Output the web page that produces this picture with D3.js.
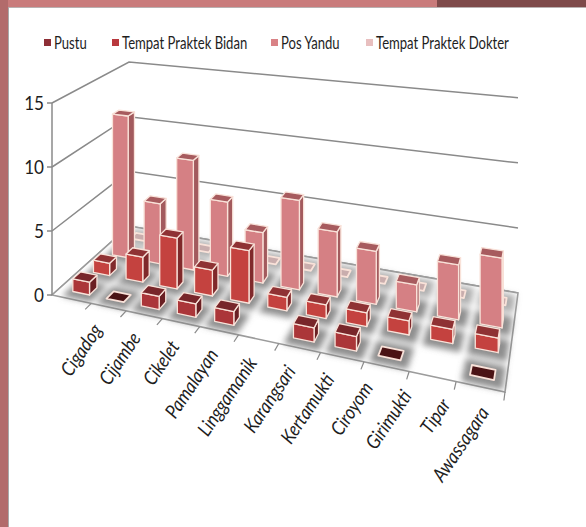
<!DOCTYPE html>
<html>
<head>
<meta charset="utf-8">
<script src="https://cdnjs.cloudflare.com/ajax/libs/d3/7.8.5/d3.min.js"></script>
<style>
  html, body { margin: 0; padding: 0; background: #fff; }
  svg { display: block; }
  text { font-family: Lato, "Open Sans", sans-serif; fill: #1e1e1e; }
</style>
</head>
<body>
<svg id="chart" width="586" height="527"></svg>
<script>
// ---- data ----
const categories = ["Cigadog", "Cijambe", "Cikelet", "Pamalayan", "Linggamanik", "Karangsari",
                    "Kertamukti", "Ciroyom", "Girimukti", "Tipar", "Awassagara"];
const seriesNames = ["Pustu", "Tempat Praktek Bidan", "Pos Yandu", "Tempat Praktek Dokter"];
const pustu    = [1, 0, 1, 1, 1, null, 1, 1, 0, null, 0];
const bidan    = [1, 2, 4, 2, 4, 1, 1, 1, 1, 1, 1];
const posYandu = [12, 5, 9, 6, 4, 7, 5, 4, 2, 4, 5];
const dokter   = [0, 0, 0, 0, 0, 0, 0, 0, 0, 0, 0];
const valueTicks = [0, 5, 10, 15];

// face colours per series: front, side, top, flat (zero value), legend swatch
const palette = [
  { front: "#ab3639", side: "#6a1f23", top: "#78262a", flat: "#4a1315", key: "#8e2f36" },
  { front: "#c4423f", side: "#80292b", top: "#8f3234", flat: "#5c1a1c", key: "#b8383d" },
  { front: "#d58084", side: "#a35a5d", top: "#a75b5e", flat: "#8d4a4c", key: "#d98286" },
  { front: "#efcaca", side: "#cba4a4", top: "#d7b6b6", flat: "#c9adad", key: "#e8bfbf" }
];

const W = 586, H = 527;
const svg = d3.select("#chart");
const defs = svg.append("defs");
defs.append("filter").attr("id", "soft").attr("x", "-60%").attr("y", "-60%")
  .attr("width", "220%").attr("height", "220%")
  .append("feGaussianBlur").attr("stdDeviation", 3.2);

// ---- slide frame ----
svg.append("rect").attr("x", 0).attr("y", 0).attr("width", W).attr("height", 7).attr("fill", "#c97b7b");
svg.append("rect").attr("x", 437).attr("y", 0).attr("width", W - 437).attr("height", 7).attr("fill", "#7e4a4a");
svg.append("line").attr("x1", 8).attr("x2", W).attr("y1", 7.5).attr("y2", 7.5).attr("stroke", "#b9b0b0").attr("stroke-width", 1);
svg.append("rect").attr("x", 0).attr("y", 0).attr("width", 8).attr("height", H).attr("fill", "#b26b6b");
svg.append("line").attr("x1", 8.5).attr("x2", 8.5).attr("y1", 7).attr("y2", H).attr("stroke", "#a9a9a9").attr("stroke-width", 1);

// ---- 3D projection ----
// floor corners on screen (front-left, front-right, back-right, back-left)
// and the on-screen height of the full value range at the front-left corner
const floorQuad = [[52, 295], [505, 392], [518, 293], [129, 226]];
const wallHeight = 192;

function squareToQuad(q) {
  const [[x0, y0], [x1, y1], [x2, y2], [x3, y3]] = q;
  const dx1 = x1 - x2, dx2 = x3 - x2, dx3 = x0 - x1 + x2 - x3;
  const dy1 = y1 - y2, dy2 = y3 - y2, dy3 = y0 - y1 + y2 - y3;
  const den = dx1 * dy2 - dx2 * dy1;
  const g = (dx3 * dy2 - dx2 * dy3) / den;
  const h = (dx1 * dy3 - dx3 * dy1) / den;
  return { a: x1 - x0 + g * x1, b: x3 - x0 + h * x3, c: x0,
           d: y1 - y0 + g * y1, e: y3 - y0 + h * y3, f: y0, g, h };
}
const M = squareToQuad(floorQuad);
// u: along categories (0..1), v: depth (0 front .. 1 back), t: height (0..1 of value domain)
function project(u, v, t) {
  const w = M.g * u + M.h * v + 1;
  return [(M.a * u + M.b * v + M.c) / w, (M.d * u + M.e * v + M.f - wallHeight * t) / w];
}
const pts = arr => arr.map(p => project(p[0], p[1], p[2]).map(n => n.toFixed(2)).join(",")).join(" ");

// ---- scales ----
const xBand = d3.scaleBand().domain(categories).range([0.015, 1]).paddingInner(0.5).paddingOuter(0.25);
const zBand = d3.scaleBand().domain(seriesNames).range([0, 1]).paddingInner(0.64).paddingOuter(0.32);
const yScale = d3.scaleLinear().domain([0, 15]).range([0, 1]);

// ---- walls: gridlines on the side and back walls ----
const grid = svg.append("g").attr("stroke", "#8a8a8a").attr("stroke-width", 1.5).attr("fill", "none");
valueTicks.forEach(tv => {
  const t = yScale(tv);
  grid.append("polyline").attr("points", pts([[0, 0, t], [0, 1, t], [1, 1, t]]));
});

// ---- floor ----
svg.append("polygon")
  .attr("points", pts([[0, 0, 0], [1, 0, 0], [1, 1, 0], [0, 1, 0]]))
  .attr("fill", "#ffffff").attr("stroke", "#9c9c9c").attr("stroke-width", 1.6);

// ---- boxes ----
const seriesValues = [pustu, bidan, posYandu, dokter];
const boxes = [];
seriesNames.forEach((s, si) => categories.forEach((c, ci) => {
  const v = seriesValues[si][ci];
  if (v == null) return;
  boxes.push({ s, si, c, ci, v });
}));
// paint from the back row forward, left to right within a row
boxes.sort((a, b) => b.si - a.si || a.ci - b.ci);

const bw = xBand.bandwidth(), bd = zBand.bandwidth();

// soft shadows on the floor
svg.append("g").attr("filter", "url(#soft)")
  .selectAll("polygon").data(boxes).join("polygon")
  .attr("points", d => {
    const u0 = xBand(d.c) - bw * 0.3, u1 = xBand(d.c) + bw * 1.4;
    const v0 = zBand(d.s) - bd * 0.75, v1 = zBand(d.s) + bd * 1.55;
    return pts([[u0, v0, 0], [u1, v0, 0], [u1, v1, 0], [u0, v1, 0]]);
  })
  .attr("fill", d => d.si === 3 ? "#9a9a9a" : "#727272").attr("opacity", 0.8);

const bars = svg.append("g").attr("stroke", "#f9e2d9").attr("stroke-width", 1.3).attr("stroke-linejoin", "round");
boxes.forEach(d => {
  const col = palette[d.si];
  const u0 = xBand(d.c), u1 = u0 + bw;
  const v0 = zBand(d.s), v1 = v0 + bd;
  const t = yScale(d.v);
  const g = bars.append("g");
  if (d.v === 0) {
    g.append("polygon").attr("points", pts([[u0, v0, 0], [u1, v0, 0], [u1, v1, 0], [u0, v1, 0]]))
      .attr("fill", col.flat).attr("stroke-width", 1.8);
    return;
  }
  g.append("polygon").attr("points", pts([[u1, v0, 0], [u1, v1, 0], [u1, v1, t], [u1, v0, t]])).attr("fill", col.side);
  g.append("polygon").attr("points", pts([[u0, v0, 0], [u1, v0, 0], [u1, v0, t], [u0, v0, t]])).attr("fill", col.front);
  g.append("polygon").attr("points", pts([[u0, v0, t], [u1, v0, t], [u1, v1, t], [u0, v1, t]])).attr("fill", col.top);
});

// ---- value axis ----
const axis = svg.append("g");
const a0 = project(0, 0, 0), a1 = project(0, 0, 1);
axis.append("line").attr("x1", a0[0]).attr("y1", a0[1]).attr("x2", a1[0]).attr("y2", a1[1])
  .attr("stroke", "#8a8a8a").attr("stroke-width", 1.5);
valueTicks.forEach(tv => {
  const p = project(0, 0, yScale(tv));
  axis.append("line").attr("x1", p[0] - 5).attr("x2", p[0]).attr("y1", p[1]).attr("y2", p[1])
    .attr("stroke", "#8a8a8a").attr("stroke-width", 1.5);
  axis.append("text").attr("transform", `translate(${p[0] - 8},${p[1]}) scale(0.9,1)`)
    .attr("dy", "0.36em").attr("text-anchor", "end").attr("font-size", 19).text(tv);
});

// category ticks along the front edge
categories.forEach(c => {
  const u = xBand(c) + bw + xBand.step() * xBand.paddingInner() / 2;
  const p = project(u, 0, 0), q = project(u, -0.07, 0);
  axis.append("line").attr("x1", p[0]).attr("y1", p[1]).attr("x2", q[0]).attr("y2", q[1])
    .attr("stroke", "#8a8a8a").attr("stroke-width", 1.2);
});

// category labels, slanted, set along a line just below the front edge
const [fl, fr] = [floorQuad[0], floorQuad[1]];
const labelX = d3.scalePoint().domain(categories).range([fl[0] + 51, fr[0] - 15]);
const frontEdgeY = x => fl[1] + (x - fl[0]) * (fr[1] - fl[1]) / (fr[0] - fl[0]);
categories.forEach(c => {
  const x = labelX(c), y = frontEdgeY(x) + 24;
  axis.append("text")
    .attr("transform", `translate(${x},${y}) rotate(-56) scale(0.88,1)`)
    .attr("text-anchor", "end").attr("font-size", 19.5).attr("font-style", "italic")
    .text(c);
});

// ---- legend ----
const legendX = [44, 112, 271, 366];
const legend = svg.append("g");
seriesNames.forEach((s, i) => {
  legend.append("rect").attr("x", legendX[i]).attr("y", 39).attr("width", 7).attr("height", 7)
    .attr("fill", palette[i].key);
  legend.append("text").attr("transform", `translate(${legendX[i] + 10},${43}) scale(0.77,1)`)
    .attr("dy", "0.36em").attr("font-size", 17).text(s);
});
</script>
</body>
</html>
